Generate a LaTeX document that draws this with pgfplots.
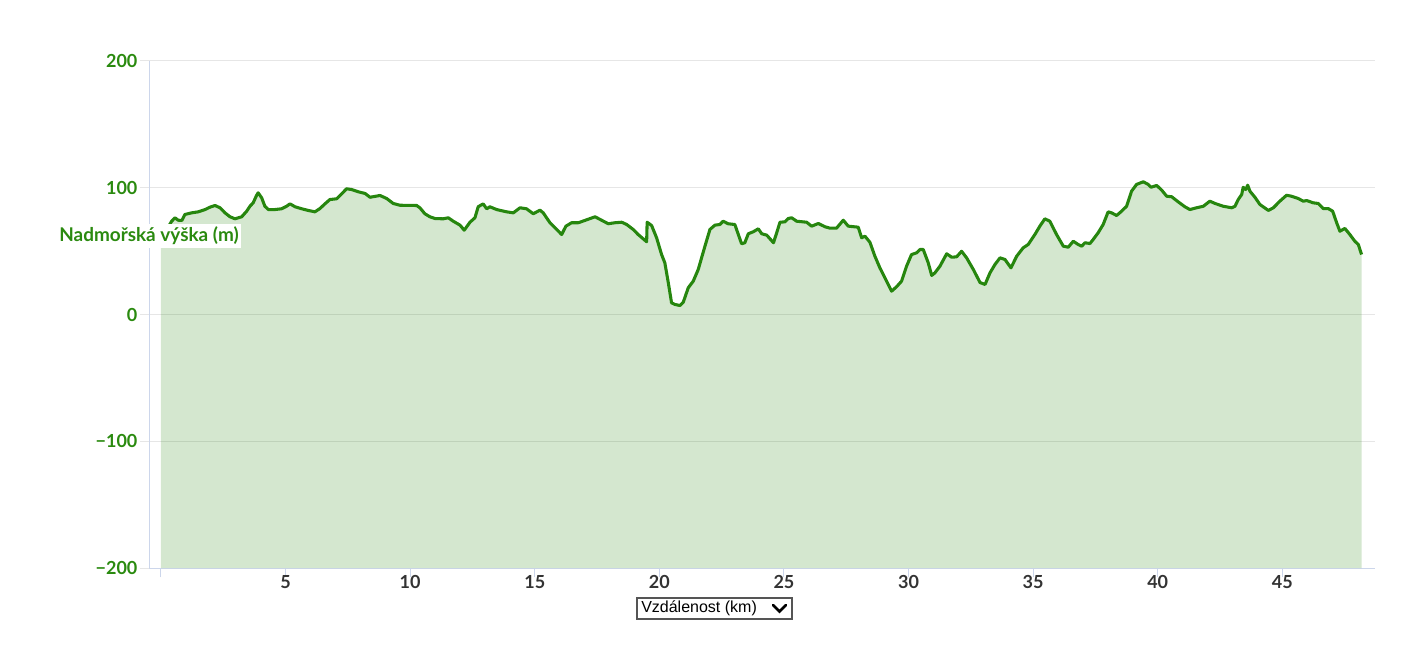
\documentclass[border=0pt]{standalone}
\usepackage{fontspec}
\setmainfont{Lato}
\newfontfamily\arialfont{Liberation Sans}
\usepackage{pgfplots}
\usepackage{pgfplotstable}
\pgfplotsset{compat=1.18}
\definecolor{linegreen}{RGB}{38,134,14}
\definecolor{labgreen}{RGB}{42,138,15}
\definecolor{gridgray}{RGB}{230,230,230}
\definecolor{axisgray}{RGB}{204,214,235}
\definecolor{xlab}{RGB}{51,51,51}
\definecolor{boxgray}{RGB}{85,85,85}

\pgfplotstableread{
km v
0 60
0.2 66
0.35 71
0.43 73.6
0.56 76.3
0.69 74.4
0.84 74.2
0.96 78.9
1.23 80.2
1.50 81.0
1.77 82.8
1.97 84.7
2.17 86.0
2.37 84.2
2.57 80.2
2.77 77.1
2.97 75.5
3.24 77.1
3.44 81.5
3.57 85.4
3.70 88.1
3.84 94.1
3.90 96.0
4.04 92.1
4.17 85.4
4.31 82.8
4.57 82.8
4.84 83.4
5.04 85.4
5.18 87.3
5.38 85.0
5.65 83.4
5.91 82.1
6.18 81.0
6.38 83.6
6.58 87.3
6.78 90.7
7.05 91.3
7.25 95.2
7.45 99.2
7.65 98.6
7.92 96.8
8.19 95.5
8.39 92.5
8.79 93.9
9.06 91.5
9.32 87.6
9.59 86.2
10.26 86.0
10.39 84.2
10.59 79.5
10.79 77.1
11.00 75.7
11.33 75.5
11.53 76.3
11.73 73.6
12.00 70.5
12.17 66.5
12.40 72.8
12.60 76.3
12.73 85.0
12.93 87.3
13.07 83.4
13.20 85.0
13.47 82.8
13.87 81.0
14.14 80.2
14.41 84.2
14.67 83.4
14.94 79.5
15.21 82.3
15.34 80.2
15.61 72.4
15.88 67.1
16.08 63.1
16.25 69.7
16.48 72.4
16.75 72.4
17.01 74.2
17.42 77.1
17.68 74.4
17.95 71.6
18.22 72.4
18.49 72.8
18.69 71.0
18.95 67.1
19.15 63.1
19.49 57.4
19.51 72.8
19.69 70.2
19.89 60.5
20.09 47.3
20.22 40.8
20.36 25.0
20.49 9.2
20.63 7.9
20.83 7.1
20.96 9.7
21.16 21.1
21.36 26.3
21.56 35.5
21.83 53.9
22.03 67.1
22.23 70.5
22.43 71.0
22.56 73.6
22.76 71.6
23.03 71.0
23.17 63.1
23.30 55.8
23.43 56.6
23.57 63.7
23.77 65.3
23.97 67.6
24.11 63.7
24.31 62.6
24.58 56.6
24.71 64.5
24.84 72.8
25.04 73.1
25.17 75.7
25.31 76.3
25.51 73.6
25.91 72.8
26.11 69.7
26.38 71.8
26.65 69.2
26.85 68.1
27.11 68.1
27.38 74.4
27.58 69.7
27.98 68.9
28.12 60.5
28.25 61.8
28.45 57.0
28.65 46.0
28.85 36.8
29.12 26.3
29.32 18.4
29.52 21.9
29.72 26.3
29.92 38.1
30.12 47.3
30.33 48.7
30.46 51.3
30.59 51.3
30.79 40.8
30.93 30.8
31.06 32.9
31.26 38.1
31.53 47.9
31.73 45.2
31.93 45.5
32.13 49.9
32.33 44.7
32.60 35.5
32.87 25.2
33.07 23.7
33.27 32.9
33.47 39.5
33.67 44.7
33.87 43.4
34.11 36.8
34.34 46.0
34.60 52.6
34.80 55.2
35.07 63.1
35.27 69.7
35.47 75.5
35.67 73.6
35.94 63.1
36.21 53.9
36.41 53.1
36.61 57.8
36.81 55.2
36.95 53.9
37.08 56.6
37.28 56.0
37.41 59.2
37.61 64.5
37.81 71.0
38.01 81.0
38.15 80.2
38.35 78.1
38.55 81.5
38.75 85.4
38.95 97.3
39.15 102.6
39.42 104.7
39.62 102.6
39.73 100.4
39.96 101.8
40.16 98.1
40.36 93.3
40.56 92.9
40.82 88.9
41.09 85.0
41.29 82.8
41.56 84.2
41.83 85.4
42.09 89.4
42.30 87.6
42.63 85.4
42.97 84.2
43.10 85.4
43.23 90.7
43.37 94.7
43.43 100.4
43.53 98.6
43.61 102.0
43.70 97.3
43.90 92.5
44.10 86.8
44.44 82.1
44.64 84.2
44.90 89.4
45.17 94.1
45.37 93.3
45.64 91.5
45.84 89.4
45.98 89.9
46.24 88.1
46.44 87.6
46.64 83.6
46.84 83.6
47.02 81.5
47.18 72.4
47.31 65.7
47.51 67.9
47.71 63.1
47.91 57.8
48.05 55.2
48.18 47.3
}\elev

\begin{document}
\begin{tikzpicture}[x=0.75bp,y=0.75bp]
\useasboundingbox (0,0) rectangle (1422,654);
\begin{axis}[
  at={(111.75bp,64.5bp)}, anchor=south west,
  scale only axis, width=919.5bp, height=380.25bp,
  xmin=-0.48, xmax=48.72, ymin=-200, ymax=200,
  axis x line*=bottom, axis y line*=left,
  axis line style={draw=axisgray, line width=0.75bp},
  ymajorgrids, major grid style={draw=gridgray, line width=0.75bp},
  ytick={-200,-100,0,100,200},
  yticklabels={−200,−100,0,100,200},
  xtick={0,5,10,15,20,25,30,35,40,45},
  xticklabels={,5,10,15,20,25,30,35,40,45},
  tick align=outside,
  major tick length=7bp,
  tick style={draw=axisgray, line width=0.75bp},
  ytick style={draw=gridgray},
  yticklabel style={font=\fontsize{13.5bp}{16bp}\selectfont\bfseries, text=labgreen, inner sep=0pt, xshift=-1.5bp},
  xticklabel style={font=\fontsize{13.5bp}{16bp}\selectfont\bfseries, text=xlab, inner sep=0pt, yshift=1.5bp},
  clip=false,
]
\addplot[draw=none, fill=linegreen, fill opacity=0.2] table[x=km,y=v] {\elev} |- (axis cs:0,-200) -- cycle;
\addplot[color=linegreen, line width=2.3bp, line join=round] table[x=km,y=v] {\elev};
\end{axis}
\node[fill=white, anchor=west, inner xsep=1.5bp, inner ysep=2.2bp, text=labgreen,
  font=\fontsize{14.2bp}{16bp}\selectfont\bfseries] at (57,418) {Nadmořská výška (m)};
\draw[boxgray, line width=1.2bp] (637,35) rectangle (792,56);
\node[anchor=west, inner sep=0pt, font=\arialfont\fontsize{12bp}{14bp}\selectfont, text=black] at (641,45.5) {Vzdálenost (km)};
\draw[black, line width=2bp, line cap=round, line join=miter] (773,49) -- (779.5,42.5) -- (786,49);
\end{tikzpicture}
\end{document}
